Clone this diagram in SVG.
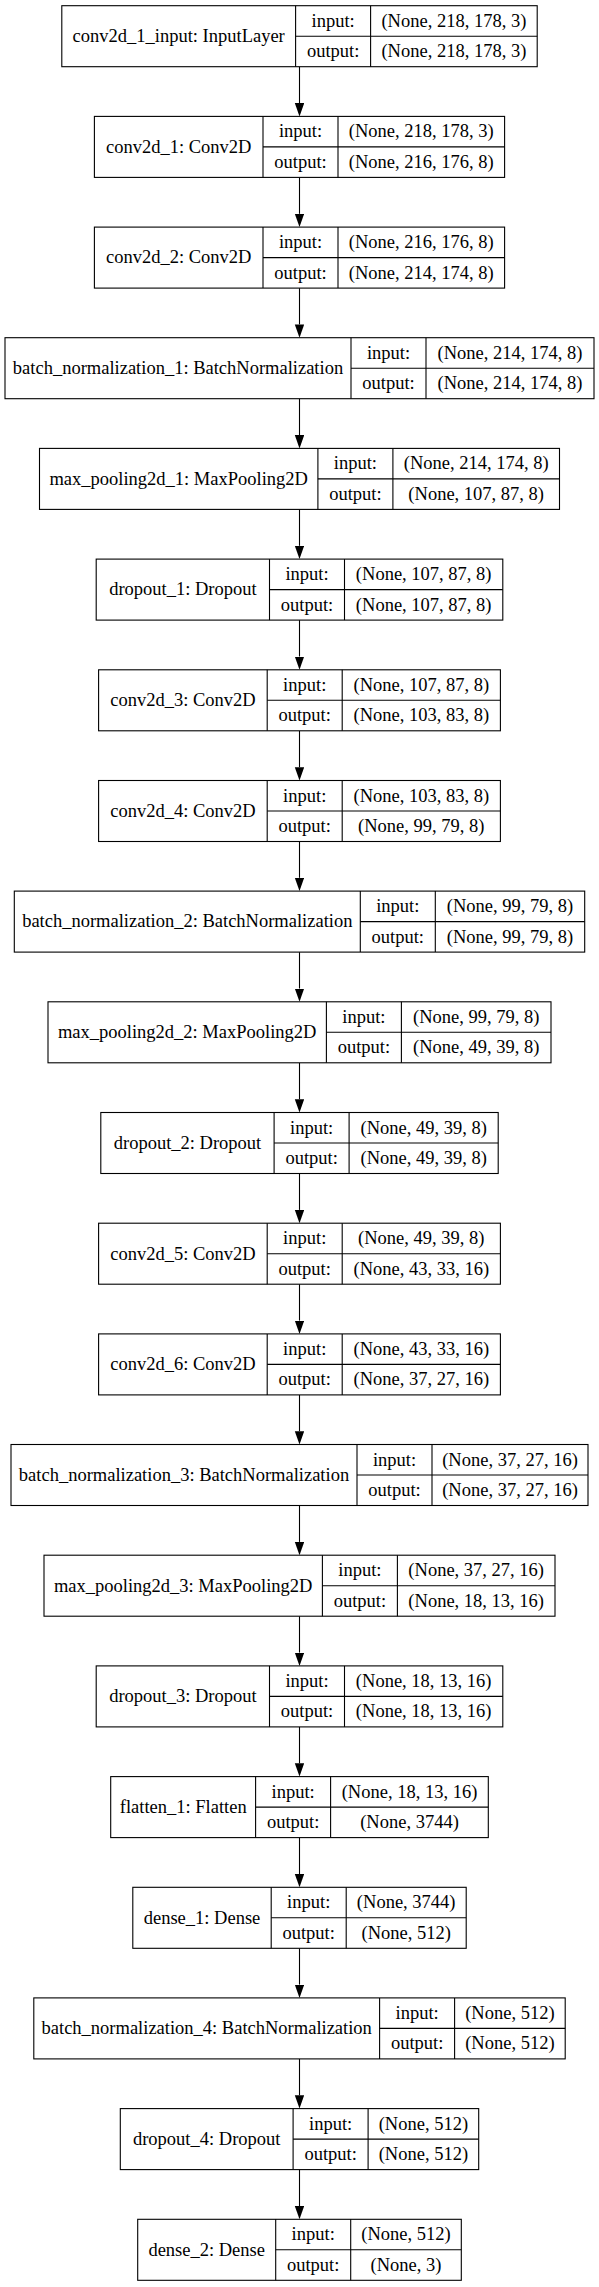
<svg xmlns="http://www.w3.org/2000/svg" width="599" height="2287" viewBox="0 0 599 2287">
<style>
.n rect{fill:#fff;stroke:#000;stroke-width:1.1}
.n line{stroke:#000;stroke-width:1.1}
.n text{font-family:"Liberation Serif","Times New Roman",serif;font-size:18.5px;fill:#000;text-anchor:middle}
.e path{fill:none;stroke:#000;stroke-width:1.1}
</style>
<defs>
<marker id="ah" markerUnits="userSpaceOnUse" markerWidth="14" markerHeight="10" refX="0" refY="4.7" orient="auto">
<path d="M0,0 L13.3,4.7 L0,9.4 z" fill="#000" stroke="none"/>
</marker>
</defs>
<rect x="0" y="0" width="599" height="2287" fill="#fff"/>
<g class="e">
<path d="M299.5,66.7 V103.1" marker-end="url(#ah)"/>
<path d="M299.5,177.4 V213.8" marker-end="url(#ah)"/>
<path d="M299.5,288.1 V324.4" marker-end="url(#ah)"/>
<path d="M299.5,398.7 V435.1" marker-end="url(#ah)"/>
<path d="M299.5,509.4 V545.8" marker-end="url(#ah)"/>
<path d="M299.5,620.1 V656.5" marker-end="url(#ah)"/>
<path d="M299.5,730.8 V767.2" marker-end="url(#ah)"/>
<path d="M299.5,841.5 V877.8" marker-end="url(#ah)"/>
<path d="M299.5,952.1 V988.5" marker-end="url(#ah)"/>
<path d="M299.5,1062.8 V1099.2" marker-end="url(#ah)"/>
<path d="M299.5,1173.5 V1209.9" marker-end="url(#ah)"/>
<path d="M299.5,1284.2 V1320.6" marker-end="url(#ah)"/>
<path d="M299.5,1394.9 V1431.2" marker-end="url(#ah)"/>
<path d="M299.5,1505.5 V1541.9" marker-end="url(#ah)"/>
<path d="M299.5,1616.2 V1652.6" marker-end="url(#ah)"/>
<path d="M299.5,1726.9 V1763.3" marker-end="url(#ah)"/>
<path d="M299.5,1837.6 V1874.0" marker-end="url(#ah)"/>
<path d="M299.5,1948.3 V1984.6" marker-end="url(#ah)"/>
<path d="M299.5,2058.9 V2095.3" marker-end="url(#ah)"/>
<path d="M299.5,2169.6 V2206.0" marker-end="url(#ah)"/>
</g>
<g id="conv2d_1_input" class="n">
<rect x="61.8" y="5.7" width="475.4" height="61"/>
<line x1="295.6" y1="5.7" x2="295.6" y2="66.7"/><line x1="370.6" y1="5.7" x2="370.6" y2="66.7"/><line x1="295.6" y1="36.2" x2="537.2" y2="36.2"/>
<text x="178.7" y="42">conv2d_1_input: InputLayer</text>
<text x="333.1" y="26.7">input:</text><text x="333.1" y="57.2">output:</text>
<text x="453.9" y="26.7">(None, 218, 178, 3)</text><text x="453.9" y="57.2">(None, 218, 178, 3)</text>
</g>
<g id="conv2d_1" class="n">
<rect x="94.4" y="116.4" width="410.2" height="61"/>
<line x1="263" y1="116.4" x2="263" y2="177.4"/><line x1="338" y1="116.4" x2="338" y2="177.4"/><line x1="263" y1="146.9" x2="504.6" y2="146.9"/>
<text x="178.7" y="152.7">conv2d_1: Conv2D</text>
<text x="300.5" y="137.4">input:</text><text x="300.5" y="167.9">output:</text>
<text x="421.3" y="137.4">(None, 218, 178, 3)</text><text x="421.3" y="167.9">(None, 216, 176, 8)</text>
</g>
<g id="conv2d_2" class="n">
<rect x="94.4" y="227.1" width="410.2" height="61"/>
<line x1="263" y1="227.1" x2="263" y2="288.1"/><line x1="338" y1="227.1" x2="338" y2="288.1"/><line x1="263" y1="257.6" x2="504.6" y2="257.6"/>
<text x="178.7" y="263.4">conv2d_2: Conv2D</text>
<text x="300.5" y="248.1">input:</text><text x="300.5" y="278.6">output:</text>
<text x="421.3" y="248.1">(None, 216, 176, 8)</text><text x="421.3" y="278.6">(None, 214, 174, 8)</text>
</g>
<g id="batch_normalization_1" class="n">
<rect x="5" y="337.7" width="589" height="61"/>
<line x1="351" y1="337.7" x2="351" y2="398.7"/><line x1="426" y1="337.7" x2="426" y2="398.7"/><line x1="351" y1="368.2" x2="594" y2="368.2"/>
<text x="178" y="374">batch_normalization_1: BatchNormalization</text>
<text x="388.5" y="358.7">input:</text><text x="388.5" y="389.2">output:</text>
<text x="510" y="358.7">(None, 214, 174, 8)</text><text x="510" y="389.2">(None, 214, 174, 8)</text>
</g>
<g id="max_pooling2d_1" class="n">
<rect x="39.5" y="448.4" width="520" height="61"/>
<line x1="317.9" y1="448.4" x2="317.9" y2="509.4"/><line x1="392.9" y1="448.4" x2="392.9" y2="509.4"/><line x1="317.9" y1="478.9" x2="559.5" y2="478.9"/>
<text x="178.7" y="484.7">max_pooling2d_1: MaxPooling2D</text>
<text x="355.4" y="469.4">input:</text><text x="355.4" y="499.9">output:</text>
<text x="476.2" y="469.4">(None, 214, 174, 8)</text><text x="476.2" y="499.9">(None, 107, 87, 8)</text>
</g>
<g id="dropout_1" class="n">
<rect x="96.2" y="559.1" width="406.6" height="61"/>
<line x1="269.5" y1="559.1" x2="269.5" y2="620.1"/><line x1="344.5" y1="559.1" x2="344.5" y2="620.1"/><line x1="269.5" y1="589.6" x2="502.8" y2="589.6"/>
<text x="182.9" y="595.4">dropout_1: Dropout</text>
<text x="307" y="580.1">input:</text><text x="307" y="610.6">output:</text>
<text x="423.7" y="580.1">(None, 107, 87, 8)</text><text x="423.7" y="610.6">(None, 107, 87, 8)</text>
</g>
<g id="conv2d_3" class="n">
<rect x="98.6" y="669.8" width="401.8" height="61"/>
<line x1="267.2" y1="669.8" x2="267.2" y2="730.8"/><line x1="342.2" y1="669.8" x2="342.2" y2="730.8"/><line x1="267.2" y1="700.3" x2="500.4" y2="700.3"/>
<text x="182.9" y="706.1">conv2d_3: Conv2D</text>
<text x="304.7" y="690.8">input:</text><text x="304.7" y="721.3">output:</text>
<text x="421.3" y="690.8">(None, 107, 87, 8)</text><text x="421.3" y="721.3">(None, 103, 83, 8)</text>
</g>
<g id="conv2d_4" class="n">
<rect x="98.6" y="780.5" width="401.8" height="61"/>
<line x1="267.2" y1="780.5" x2="267.2" y2="841.5"/><line x1="342.2" y1="780.5" x2="342.2" y2="841.5"/><line x1="267.2" y1="811" x2="500.4" y2="811"/>
<text x="182.9" y="816.8">conv2d_4: Conv2D</text>
<text x="304.7" y="801.5">input:</text><text x="304.7" y="832">output:</text>
<text x="421.3" y="801.5">(None, 103, 83, 8)</text><text x="421.3" y="832">(None, 99, 79, 8)</text>
</g>
<g id="batch_normalization_2" class="n">
<rect x="14.3" y="891.1" width="570.4" height="61"/>
<line x1="360.3" y1="891.1" x2="360.3" y2="952.1"/><line x1="435.3" y1="891.1" x2="435.3" y2="952.1"/><line x1="360.3" y1="921.6" x2="584.7" y2="921.6"/>
<text x="187.3" y="927.4">batch_normalization_2: BatchNormalization</text>
<text x="397.8" y="912.1">input:</text><text x="397.8" y="942.6">output:</text>
<text x="510" y="912.1">(None, 99, 79, 8)</text><text x="510" y="942.6">(None, 99, 79, 8)</text>
</g>
<g id="max_pooling2d_2" class="n">
<rect x="48" y="1001.8" width="503" height="61"/>
<line x1="326.4" y1="1001.8" x2="326.4" y2="1062.8"/><line x1="401.4" y1="1001.8" x2="401.4" y2="1062.8"/><line x1="326.4" y1="1032.3" x2="551" y2="1032.3"/>
<text x="187.2" y="1038.1">max_pooling2d_2: MaxPooling2D</text>
<text x="363.9" y="1022.8">input:</text><text x="363.9" y="1053.3">output:</text>
<text x="476.2" y="1022.8">(None, 99, 79, 8)</text><text x="476.2" y="1053.3">(None, 49, 39, 8)</text>
</g>
<g id="dropout_2" class="n">
<rect x="100.8" y="1112.5" width="397.4" height="61"/>
<line x1="274.1" y1="1112.5" x2="274.1" y2="1173.5"/><line x1="349.1" y1="1112.5" x2="349.1" y2="1173.5"/><line x1="274.1" y1="1143" x2="498.2" y2="1143"/>
<text x="187.5" y="1148.8">dropout_2: Dropout</text>
<text x="311.6" y="1133.5">input:</text><text x="311.6" y="1164">output:</text>
<text x="423.7" y="1133.5">(None, 49, 39, 8)</text><text x="423.7" y="1164">(None, 49, 39, 8)</text>
</g>
<g id="conv2d_5" class="n">
<rect x="98.6" y="1223.2" width="401.8" height="61"/>
<line x1="267.2" y1="1223.2" x2="267.2" y2="1284.2"/><line x1="342.2" y1="1223.2" x2="342.2" y2="1284.2"/><line x1="267.2" y1="1253.7" x2="500.4" y2="1253.7"/>
<text x="182.9" y="1259.5">conv2d_5: Conv2D</text>
<text x="304.7" y="1244.2">input:</text><text x="304.7" y="1274.7">output:</text>
<text x="421.3" y="1244.2">(None, 49, 39, 8)</text><text x="421.3" y="1274.7">(None, 43, 33, 16)</text>
</g>
<g id="conv2d_6" class="n">
<rect x="98.6" y="1333.9" width="401.8" height="61"/>
<line x1="267.2" y1="1333.9" x2="267.2" y2="1394.9"/><line x1="342.2" y1="1333.9" x2="342.2" y2="1394.9"/><line x1="267.2" y1="1364.4" x2="500.4" y2="1364.4"/>
<text x="182.9" y="1370.2">conv2d_6: Conv2D</text>
<text x="304.7" y="1354.9">input:</text><text x="304.7" y="1385.4">output:</text>
<text x="421.3" y="1354.9">(None, 43, 33, 16)</text><text x="421.3" y="1385.4">(None, 37, 27, 16)</text>
</g>
<g id="batch_normalization_3" class="n">
<rect x="11" y="1444.5" width="577" height="61"/>
<line x1="357" y1="1444.5" x2="357" y2="1505.5"/><line x1="432" y1="1444.5" x2="432" y2="1505.5"/><line x1="357" y1="1475" x2="588" y2="1475"/>
<text x="184" y="1480.8">batch_normalization_3: BatchNormalization</text>
<text x="394.5" y="1465.5">input:</text><text x="394.5" y="1496">output:</text>
<text x="510" y="1465.5">(None, 37, 27, 16)</text><text x="510" y="1496">(None, 37, 27, 16)</text>
</g>
<g id="max_pooling2d_3" class="n">
<rect x="44" y="1555.2" width="511" height="61"/>
<line x1="322.4" y1="1555.2" x2="322.4" y2="1616.2"/><line x1="397.4" y1="1555.2" x2="397.4" y2="1616.2"/><line x1="322.4" y1="1585.7" x2="555" y2="1585.7"/>
<text x="183.2" y="1591.5">max_pooling2d_3: MaxPooling2D</text>
<text x="359.9" y="1576.2">input:</text><text x="359.9" y="1606.7">output:</text>
<text x="476.2" y="1576.2">(None, 37, 27, 16)</text><text x="476.2" y="1606.7">(None, 18, 13, 16)</text>
</g>
<g id="dropout_3" class="n">
<rect x="96.2" y="1665.9" width="406.6" height="61"/>
<line x1="269.5" y1="1665.9" x2="269.5" y2="1726.9"/><line x1="344.5" y1="1665.9" x2="344.5" y2="1726.9"/><line x1="269.5" y1="1696.4" x2="502.8" y2="1696.4"/>
<text x="182.9" y="1702.2">dropout_3: Dropout</text>
<text x="307" y="1686.9">input:</text><text x="307" y="1717.4">output:</text>
<text x="423.7" y="1686.9">(None, 18, 13, 16)</text><text x="423.7" y="1717.4">(None, 18, 13, 16)</text>
</g>
<g id="flatten_1" class="n">
<rect x="110.7" y="1776.6" width="377.6" height="61"/>
<line x1="255.6" y1="1776.6" x2="255.6" y2="1837.6"/><line x1="330.6" y1="1776.6" x2="330.6" y2="1837.6"/><line x1="255.6" y1="1807.1" x2="488.3" y2="1807.1"/>
<text x="183.2" y="1812.9">flatten_1: Flatten</text>
<text x="293.1" y="1797.6">input:</text><text x="293.1" y="1828.1">output:</text>
<text x="409.5" y="1797.6">(None, 18, 13, 16)</text><text x="409.5" y="1828.1">(None, 3744)</text>
</g>
<g id="dense_1" class="n">
<rect x="132.8" y="1887.3" width="333.4" height="61"/>
<line x1="271.2" y1="1887.3" x2="271.2" y2="1948.3"/><line x1="346.2" y1="1887.3" x2="346.2" y2="1948.3"/><line x1="271.2" y1="1917.8" x2="466.2" y2="1917.8"/>
<text x="202" y="1923.6">dense_1: Dense</text>
<text x="308.7" y="1908.3">input:</text><text x="308.7" y="1938.8">output:</text>
<text x="406.2" y="1908.3">(None, 3744)</text><text x="406.2" y="1938.8">(None, 512)</text>
</g>
<g id="batch_normalization_4" class="n">
<rect x="33.8" y="1997.9" width="531.4" height="61"/>
<line x1="379.6" y1="1997.9" x2="379.6" y2="2058.9"/><line x1="454.6" y1="1997.9" x2="454.6" y2="2058.9"/><line x1="379.6" y1="2028.4" x2="565.2" y2="2028.4"/>
<text x="206.7" y="2034.2">batch_normalization_4: BatchNormalization</text>
<text x="417.1" y="2018.9">input:</text><text x="417.1" y="2049.4">output:</text>
<text x="509.9" y="2018.9">(None, 512)</text><text x="509.9" y="2049.4">(None, 512)</text>
</g>
<g id="dropout_4" class="n">
<rect x="120.3" y="2108.6" width="358.4" height="61"/>
<line x1="293.1" y1="2108.6" x2="293.1" y2="2169.6"/><line x1="368.1" y1="2108.6" x2="368.1" y2="2169.6"/><line x1="293.1" y1="2139.1" x2="478.7" y2="2139.1"/>
<text x="206.7" y="2144.9">dropout_4: Dropout</text>
<text x="330.6" y="2129.6">input:</text><text x="330.6" y="2160.1">output:</text>
<text x="423.4" y="2129.6">(None, 512)</text><text x="423.4" y="2160.1">(None, 512)</text>
</g>
<g id="dense_2" class="n">
<rect x="137.7" y="2219.3" width="323.6" height="61"/>
<line x1="275.7" y1="2219.3" x2="275.7" y2="2280.3"/><line x1="350.7" y1="2219.3" x2="350.7" y2="2280.3"/><line x1="275.7" y1="2249.8" x2="461.3" y2="2249.8"/>
<text x="206.7" y="2255.6">dense_2: Dense</text>
<text x="313.2" y="2240.3">input:</text><text x="313.2" y="2270.8">output:</text>
<text x="406" y="2240.3">(None, 512)</text><text x="406" y="2270.8">(None, 3)</text>
</g>
</svg>
